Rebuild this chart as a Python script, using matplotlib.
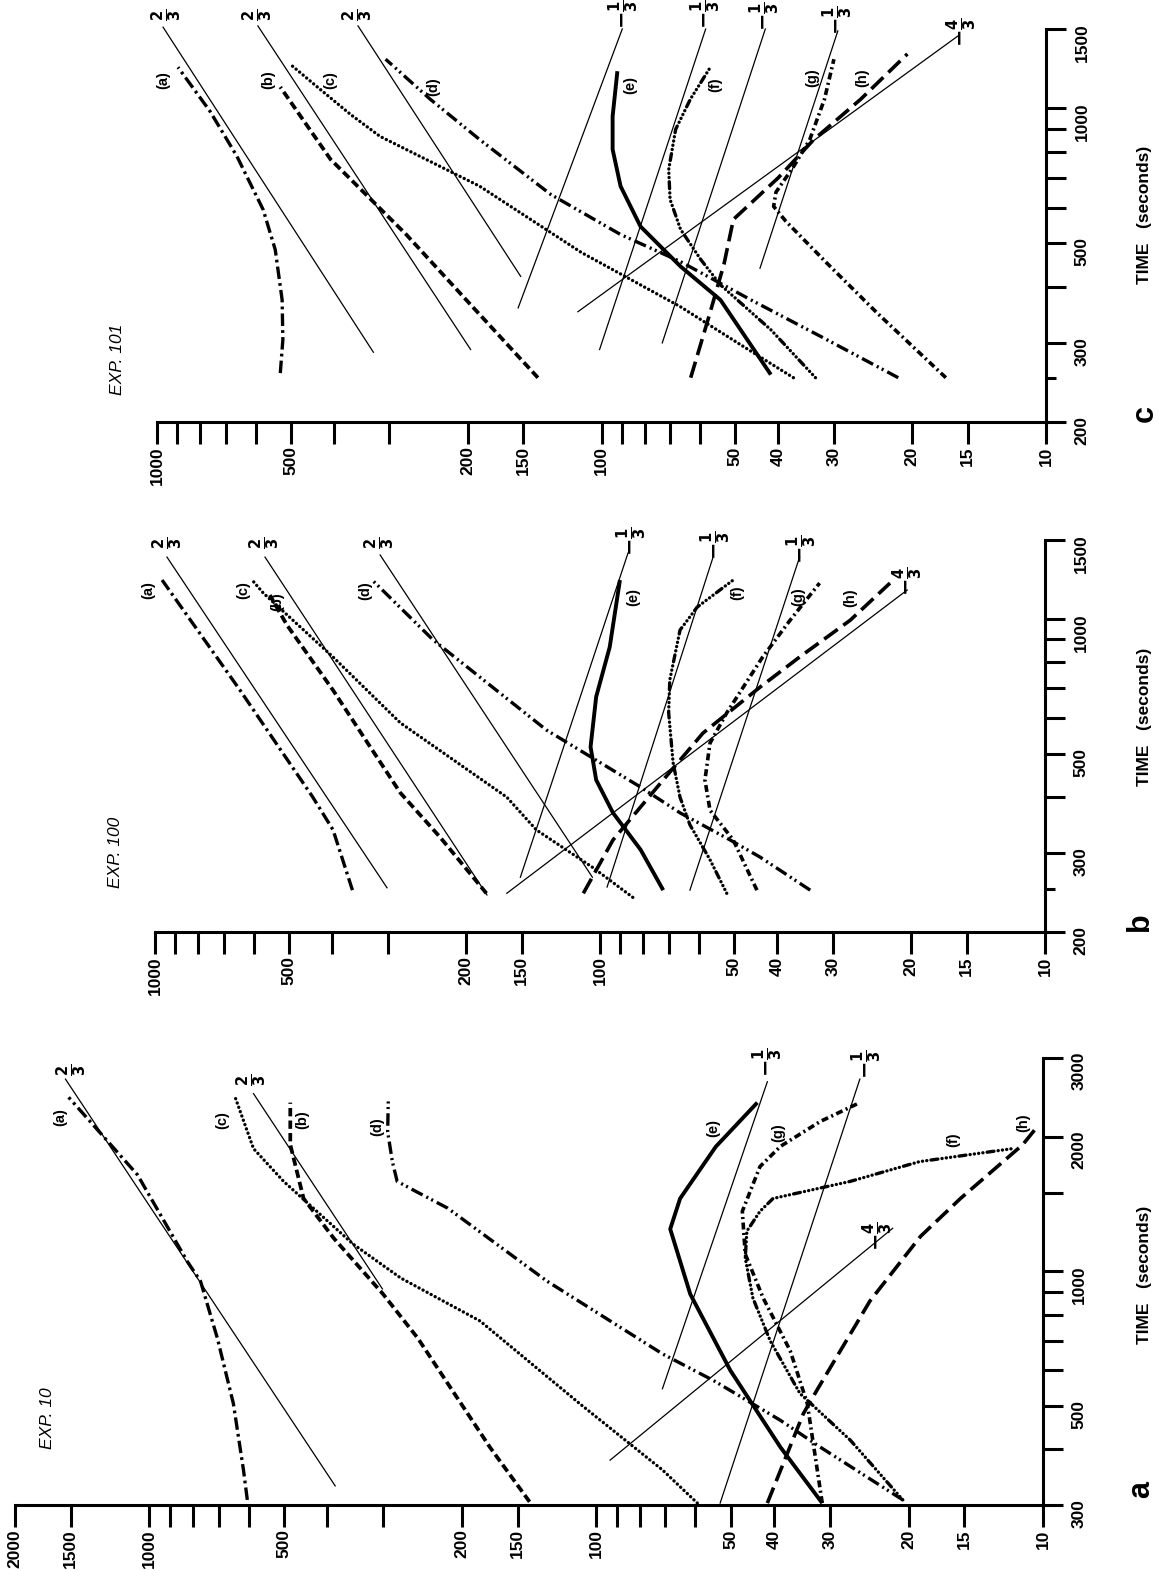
import matplotlib
matplotlib.use("Agg")
import matplotlib.pyplot as plt
from matplotlib.ticker import FixedLocator, FixedFormatter, NullFormatter

# ---- data: (time s, value) pairs per curve ---------------------------------
# EXP 10 (panel a)
exp10_a = [(308, 604), (359, 616), (506, 649), (709, 705), (951, 769), (1050, 822), (1644, 1064), (2450, 1517)]
exp10_b = [(305, 141), (404, 173), (709, 251), (889, 300), (1186, 387), (1455, 452), (1920, 484), (2384, 484)]
exp10_c = [(303, 59.4), (359, 71), (506, 109), (774, 182), (966, 274), (1150, 350), (1589, 501), (1881, 585), (2450, 643)]
exp10_d = [(308, 20.6), (404, 31.5), (464, 38.7), (570, 54.7), (653, 71), (951, 129), (1384, 215), (1511, 254),
           (1589, 279), (1759, 286), (2052, 293), (2450, 292)]
exp10_e = [(303, 31.2), (404, 38.7), (600, 50.1), (889, 61.6), (1243, 68.3), (1455, 64.9), (1900, 54), (2384, 43.6)]
exp10_f = [(308, 20.6), (419, 27.0), (533, 35.0), (699, 40.8), (871, 44.6), (1071, 46.4), (1230, 46.0), (1362, 43.0),
           (1455, 40.2), (1589, 27.0), (1759, 18.9), (1881, 11.7)]
exp10_g = [(303, 31.2), (506, 33.7), (664, 36.8), (871, 42.3), (1093, 46.4), (1362, 47.1), (1715, 43.0), (1903, 38.7),
           (2164, 31.5), (2384, 25.7)]
exp10_h = [(303, 41.4), (480, 34.4), (541, 32.1), (858, 24.4), (1197, 18.8), (1455, 15.3), (1920, 11.1), (2106, 10.3)]
exp10_ref = [[(331, 384), (2691, 1542)],      # 2/3
             [(913, 301), (2497, 585)],       # 2/3
             [(546, 71.1), (2655, 41.4)],     # -1/3
             [(303, 52.8), (2691, 25.7)],     # -1/3
             [(378, 93.1), (1248, 21.7)]]     # -4/3

# EXP 100 (panel b)
exp100_a = [(248, 360), (338, 398), (400, 442), (693, 644), (1221, 964)]
exp100_b = [(244, 180), (326, 229), (409, 281), (693, 398), (968, 505), (1130, 552)]
exp100_c = [(239, 84.4), (279, 104), (338, 139), (400, 162), (586, 281), (822, 398), (1142, 571), (1221, 605)]
exp100_d = [(248, 33.7), (294, 43.7), (321, 51.0), (369, 66.1), (422, 81.3), (565, 132), (897, 237), (1221, 325)]
exp100_e = [(248, 72.1), (305, 81), (369, 93.5), (437, 102), (518, 105), (670, 102), (865, 95.1), (1221, 90.2)]
exp100_f = [(244, 51.9), (290, 56.6), (347, 62.8), (400, 66.1), (477, 68.5), (617, 70.1), (730, 69.7), (944, 66.1),
            (1062, 60.5), (1221, 50.2)]
exp100_g = [(248, 44.4), (321, 50.2), (374, 56.6), (437, 58.1), (528, 56.6), (617, 51.9), (822, 43.1), (993, 37.4), (1202, 32.1)]
exp100_h = [(244, 109), (321, 93.5), (437, 72.1), (556, 58.7), (704, 43.7), (822, 35.6), (993, 27.4), (1202, 22.3)]
exp100_ref = [[(251, 301), (1374, 940)],
              [(242, 179.5), (1374, 566)],
              [(265, 104), (1389, 312)],
              [(265, 151), (1403, 86.5)],
              [(252, 96.4), (1374, 55.7)],
              [(248, 62.8), (1374, 35.6)],
              [(244, 162), (1160, 20.4)]]

# EXP 101 (panel c)
exp101_a = [(257, 528), (305, 521), (374, 523), (484, 542), (594, 577), (781, 661), (984, 760), (1233, 897)]
exp101_b = [(251, 139), (365, 197), (523, 275), (769, 407), (1114, 528)]
exp101_c = [(251, 37.0), (297, 48.6), (361, 66.4), (477, 111), (670, 188), (865, 315), (968, 367), (1102, 430), (1253, 502)]
exp101_d = [(251, 21.5), (310, 32.1), (374, 46.1), (455, 66.4), (523, 90.6), (642, 130), (851, 188), (1047, 243), (1285, 306)]
exp101_e = [(255, 41.6), (374, 54.0), (444, 66.4), (545, 81.7), (670, 90.6), (809, 94.4), (959, 94.4), (1208, 92.1)]
exp101_f = [(251, 33.0), (321, 41.6), (404, 54.0), (460, 59.8), (537, 66.4), (626, 70.1), (730, 70.6), (897, 68.1),
            (1047, 63.1), (1233, 56.9)]
exp101_g = [(251, 16.8), (350, 24), (450, 31), (560, 38.5), (604, 41), (650, 40.5), (740, 37), (851, 34), (1047, 31.5),
            (1285, 30)]
exp101_h = [(251, 63), (350, 57), (450, 53), (565, 50.5), (700, 40), (851, 33.3), (1047, 26.1), (1320, 20.5)]
exp101_ref = [[(286, 326), (1514, 969)],
              [(290, 197), (1524, 593)],
              [(422, 152), (1524, 353)],
              [(359, 154), (1500, 89.8)],
              [(290, 101), (1500, 58.3)],
              [(300, 73), (1500, 42.8)],
              [(440, 44), (1485, 29.4)],
              [(352, 113), (1446, 15.8)]]

# axis ticks
val_ticks_a = [2000, 1500, 1000, 900, 800, 700, 600, 500, 400, 300, 200, 150, 100, 90, 80, 70, 60, 50, 40, 30, 20, 15, 10]
val_ticks_bc = val_ticks_a[2:]
val_labeled = {2000, 1500, 1000, 500, 200, 150, 100, 50, 40, 30, 20, 15, 10}
time_ticks_a = [300, 400, 500, 600, 700, 800, 900, 1000, 1500, 2000, 3000]
time_labeled_a = {300, 500, 1000, 2000, 3000}
time_ticks_bc = [200, 300, 400, 500, 600, 700, 800, 900, 1000, 1500]
time_labeled_bc = {200, 300, 500, 1000, 1500}

plt.rcParams["font.family"] = ["Liberation Sans", "DejaVu Sans"]
plt.rcParams["font.weight"] = "bold"
plt.rcParams["mathtext.default"] = "bf"
plt.rcParams["lines.scale_dashes"] = False

W, H = 1159, 1571
fig = plt.figure(figsize=(W / 100, H / 100), dpi=100)
fig.patch.set_facecolor("white")

STY = {
    "a": dict(lw=2.4, dashes=[9, 3, 2, 3]),
    "b": dict(lw=2.7, dashes=[6, 3]),
    "c": dict(lw=2.4, dashes=[0.1, 3.2], dash_capstyle="round"),
    "d": dict(lw=2.4, dashes=[9, 3, 1.5, 2.5, 1.5, 3]),
    "e": dict(lw=2.8),
    "f": dict(lw=2.4, dashes=[0.1, 3, 0.1, 3, 0.1, 3, 0.1, 3, 5, 3], dash_capstyle="round"),
    "g": dict(lw=2.6, dashes=[5, 2.5, 1.5, 2.5]),
    "h": dict(lw=2.6, dashes=[12, 5]),
}


def px_axes(x0, x1, y_top, y_bot):
    # axes box given in pixels of the 1159x1571 page
    return fig.add_axes([x0 / W, 1 - y_bot / H, (x1 - x0) / W, (y_bot - y_top) / H])


def ftext(x, y, s, size=10.5, **kw):
    fig.text(x / W, 1 - y / H, s, rotation=90, ha="center", va="center", fontsize=size, **kw)


def panel(ax, curves, refs, vlim, tlim, vt, tt, tlab):
    for key, pts in curves.items():
        t, v = zip(*pts)
        ax.plot(v, t, color="black", clip_on=False, solid_capstyle="butt", solid_joinstyle="round", **STY[key])
    for pts in refs:
        t, v = zip(*pts)
        ax.plot(v, t, color="black", lw=0.9, clip_on=False)
    ax.set_xscale("log"); ax.set_yscale("log")
    ax.set_xlim(*vlim); ax.set_ylim(*tlim)
    for s in ("top", "left"):
        ax.spines[s].set_visible(False)
    for s in ("bottom", "right"):
        ax.spines[s].set_linewidth(2.2)
    ax.yaxis.tick_right()
    ax.xaxis.set_major_locator(FixedLocator(vt))
    ax.xaxis.set_major_formatter(FixedFormatter([str(v) if v in val_labeled else "" for v in vt]))
    ax.xaxis.set_minor_formatter(NullFormatter())
    ax.yaxis.set_major_locator(FixedLocator(tt))
    ax.yaxis.set_major_formatter(FixedFormatter([str(t) if t in tlab else "" for t in tt]))
    ax.yaxis.set_minor_formatter(NullFormatter())
    ax.tick_params(axis="x", which="major", direction="out", length=15.5, width=2.2, pad=2, labelsize=12.5, labelrotation=90)
    ax.tick_params(axis="y", which="major", direction="out", length=14.5, width=2.2, pad=6, labelsize=12.5, labelrotation=90)
    ax.tick_params(which="minor", length=0)
    ax.patch.set_alpha(0)


# panel a (EXP 10), bottom band
ax_a = px_axes(15, 1043, 1058, 1505)
panel(ax_a, dict(a=exp10_a, b=exp10_b, c=exp10_c, d=exp10_d, e=exp10_e, f=exp10_f, g=exp10_g, h=exp10_h),
      exp10_ref, (2000, 10), (300, 3000), val_ticks_a, time_ticks_a, time_labeled_a)
ax_a.yaxis.set_minor_locator(FixedLocator([]))

# panel b (EXP 100), middle band
ax_b = px_axes(155, 1045, 540, 932)
panel(ax_b, dict(a=exp100_a, b=exp100_b, c=exp100_c, d=exp100_d, e=exp100_e, f=exp100_f, g=exp100_g, h=exp100_h),
      exp100_ref, (1000, 10), (200, 1500), val_ticks_bc, time_ticks_bc, time_labeled_bc)

# panel c (EXP 101), top band
ax_c = px_axes(157, 1046, 29, 422)
panel(ax_c, dict(a=exp101_a, b=exp101_b, c=exp101_c, d=exp101_d, e=exp101_e, f=exp101_f, g=exp101_g, h=exp101_h),
      exp101_ref, (1000, 10), (200, 1500), val_ticks_bc, time_ticks_bc, time_labeled_bc)

for ax in (ax_b, ax_c):
    ax.yaxis.set_minor_locator(FixedLocator([250]))
    ax.tick_params(axis="y", which="minor", length=7, width=2.2)

# ---- annotations (pixel positions on the page) ------------------------------
two3 = r"$\frac{2}{3}$"
m13 = r"$-\frac{1}{3}$"
m43 = r"$-\frac{4}{3}$"
FR = 15

# panel a
for x, y, s in [(60, 1117, "(a)"), (222, 1120, "(c)"), (302, 1120, "(b)"), (377, 1127, "(d)"),
                (713, 1128, "(e)"), (778, 1133, "(g)"), (953, 1140, "(f)"), (1023, 1123, "(h)")]:
    ftext(x, y, s)
for x, y, s in [(72, 1070, two3), (252, 1080, two3), (768, 1062, m13), (867, 1064, m13), (878, 1236, m43)]:
    ftext(x, y, s, size=FR)

# panel b
for x, y, s in [(148, 590, "(a)"), (243, 590, "(c)"), (277, 602, "(b)"), (365, 591, "(d)"),
                (633, 597, "(e)"), (737, 593, "(f)"), (798, 597, "(g)"), (850, 598, "(h)")]:
    ftext(x, y, s)
for x, y, s in [(168, 543, two3), (265, 543, two3), (380, 543, two3), (632, 541, m13), (716, 545, m13),
                (802, 549, m13), (908, 581, m43)]:
    ftext(x, y, s, size=FR)

# panel c
for x, y, s in [(163, 80, "(a)"), (268, 80, "(b)"), (330, 80, "(c)"), (433, 87, "(d)"),
                (630, 85, "(e)"), (715, 85, "(f)"), (812, 78, "(g)"), (862, 78, "(h)")]:
    ftext(x, y, s)
for x, y, s in [(167, 15, two3), (258, 15, two3), (358, 15, two3), (624, 14, m13), (706, 14, m13),
                (765, 16, m13), (838, 20, m13), (962, 32, m43)]:
    ftext(x, y, s, size=FR)

ftext(47, 1418, "EXP. 10", size=12.5, style="italic", weight="normal")
ftext(115, 852, "EXP. 100", size=12.5, style="italic", weight="normal")
ftext(117, 359, "EXP. 101", size=12.5, style="italic", weight="normal")

for y in (1275, 717, 215):
    ftext(1145, y, "TIME   (seconds)", size=12.5)
ftext(1141, 1490, "a", size=22)
ftext(1140, 922, "b", size=22)
ftext(1145, 413, "c", size=22)

fig.savefig("out.png", dpi=100, facecolor="white")
